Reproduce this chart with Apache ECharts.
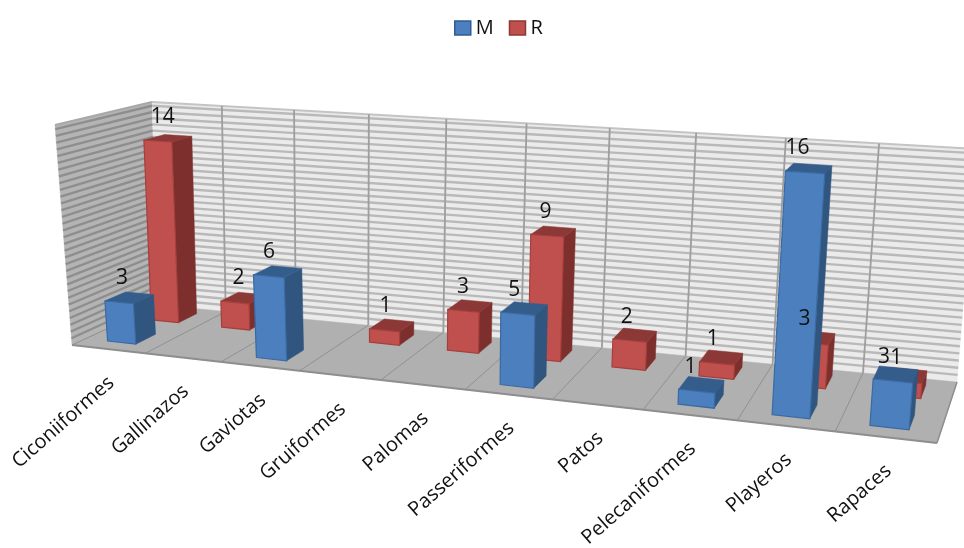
<!DOCTYPE html>
<html><head><meta charset="utf-8">
<style>html,body{margin:0;padding:0;background:#fff}#c{width:964px;height:548px}</style>
<script src="https://cdn.jsdelivr.net/npm/echarts@6/dist/echarts.min.js"></script>
</head><body><div id="c"></div>
<script>
const categories = ['Ciconiiformes','Gallinazos','Gaviotas','Gruiformes','Palomas','Passeriformes','Patos','Pelecaniformes','Playeros','Rapaces'];
const seriesM = [3,null,6,null,null,5,null,1,16,3];
const seriesR = [14,2,null,1,3,9,2,1,3,1];
const yMax = 16.3, gridStep = 0.5;

// perspective box (screen corners of the chart's 3-D box)
const FL=[72,345], FR=[937,443], BL=[158,305], BR=[957,382];
const FTL=[55,125], FTR=[958,183], BTL=[152,102], BTR=[976,149];
const K=1.2;
const lerp=(a,b,t)=>[a[0]+(b[0]-a[0])*t,a[1]+(b[1]-a[1])*t];
function P(u,v,w){
  const t=u/(u+K*(1-u));
  const f=lerp(FL,FR,t), b=lerp(BL,BR,t), ft=lerp(FTL,FTR,t), bt=lerp(BTL,BTR,t);
  return lerp(lerp(f,b,w),lerp(ft,bt,w),v);
}
const poly=(pts,fill,stroke,lw)=>({type:'polygon',silent:true,shape:{points:pts},style:{fill,stroke:stroke||fill,lineWidth:lw==null?0.5:lw}});
const line=(a,b,stroke,lw)=>({type:'line',silent:true,shape:{x1:a[0],y1:a[1],x2:b[0],y2:b[1]},style:{stroke,lineWidth:lw}});
const norm=(api,params,i,val)=>{
  const c=api.coord([i,val]),g=params.coordSys;
  return {u:(c[0]-g.x)/g.width,v:(g.y+g.height-c[1])/g.height,cell:api.size([1,0])[0]/g.width};
};

function renderBox(params,api){
  const ch=[];
  const g=params.coordSys;
  // left wall
  ch.push(poly([P(0,0,0),P(0,0,1),P(0,1,1),P(0,1,0)],'#b4b4b4'));
  // back wall
  ch.push(poly([P(0,0,1),P(1,0,1),P(1,1,1),P(0,1,1)],'#ebebeb'));
  for(let y=gridStep;y<yMax;y+=gridStep){
    const v=norm(api,params,0,y).v;
    ch.push(line(P(0,v,0),P(0,v,1),'#8e8e8e',2.4));
    ch.push(line(P(0,v,1),P(1,v,1),'#b9b9b9',2.4));
  }
  ch.push(line(P(0,1,0),P(0,1,1),'#a8a8a8',2));
  ch.push(line(P(0,1,1),P(1,1,1),'#c4c4c4',2));
  // floor
  ch.push(poly([P(0,0,0),P(1,0,0),P(1,0,1),P(0,0,1)],'#b0b0b0'));
  const cell=api.size([1,0])[0]/g.width;
  for(let i=0;i<=categories.length;i++){
    const u=i*cell;
    if(i>0&&i<categories.length){
      ch.push(line(P(u,0,1),P(u,1,1),'#9e9e9e',1.8));
      ch.push(line(P(u,0,0),P(u,0,1),'#919191',1));
    }
  }
  ch.push(line(P(0,0,0),P(1,0,0),'#8e8e8e',2));
  ch.push(line(P(1,0,0),P(1,0,1),'#8e8e8e',1.5));
  ch.push(line(P(0,0,0),P(0,0,1),'#8e8e8e',1));
  // category labels
  categories.forEach((name,i)=>{
    const n=norm(api,params,i,0), p=P(n.u,0,0);
    ch.push({type:'text',silent:true,x:p[0]+3,y:p[1]+31,rotation:0.72,
      style:{text:name,align:'right',verticalAlign:'middle',fill:'#111',font:'20px "Open Sans"'}});
  });
  return {type:'group',children:ch};
}

const BAR_HALF=0.195;
const DEPTH={M:[0.16,0.40],R:[0.68,0.90]};
const LABEL_DX={M:-3,R:-1};
const COLORS={
  M:{front:'#4c7fbd',edge:'#3a6aa3',side:'#30557f',top:'#345d8c'},
  R:{front:'#c0504d',edge:'#a53f3c',side:'#7c2f2d',top:'#8c3836'}
};
function renderBar(name){
  return function(params,api){
    const i=api.value(0),val=api.value(1);
    if(val==null||isNaN(val)) return;
    const n=norm(api,params,i,val),d=n.cell*BAR_HALF;
    const [w0,w1]=DEPTH[name],c=COLORS[name];
    const a=n.u-d,b=n.u+d,v=n.v;
    return {type:'group',children:[
      poly([P(b,0,w0),P(b,0,w1),P(b,v,w1),P(b,v,w0)],c.side),
      poly([P(a,v,w0),P(b,v,w0),P(b,v,w1),P(a,v,w1)],c.top),
      poly([P(a,0,w0),P(b,0,w0),P(b,v,w0),P(a,v,w0)],c.front,c.edge,1.2)
    ]};
  };
}
function renderLabel(name){
  return function(params,api){
    const i=api.value(0),val=api.value(1);
    if(val==null||isNaN(val)) return;
    const n=norm(api,params,i,val);
    const p=P(n.u,n.v,DEPTH[name][0]);
    return {type:'text',silent:true,x:p[0]+(0.5-n.u)*13+LABEL_DX[name],y:p[1]-24,
      style:{text:String(val),align:'center',verticalAlign:'middle',fill:'#111',font:'21px "Open Sans"'}};
  };
}
const pairs=a=>a.map((v,i)=>[i,v]);
const chart=echarts.init(document.getElementById('c'));
chart.setOption({
  animation:false,
  backgroundColor:'#fff',
  grid:{left:0,right:0,top:0,bottom:0},
  xAxis:{type:'category',data:categories,show:false},
  yAxis:{type:'value',min:0,max:yMax,show:false},
  legend:{
    left:449,top:13,itemWidth:16,itemHeight:14,itemGap:15,selectedMode:false,icon:'rect',
    textStyle:{fontFamily:'Open Sans',fontSize:20,color:'#111'},
    data:[
      {name:'M',itemStyle:{color:'#4c7fbd',borderColor:'#2f5d92',borderWidth:1.5}},
      {name:'R',itemStyle:{color:'#c0504d',borderColor:'#8c3836',borderWidth:1.5}}
    ]
  },
  series:[
    {type:'custom',name:'box',silent:true,clip:false,z:1,data:[[0,0]],encode:{x:0,y:1},renderItem:renderBox},
    {type:'custom',name:'R',silent:true,clip:false,z:2,data:pairs(seriesR),encode:{x:0,y:1},itemStyle:{color:'#c0504d'},renderItem:renderBar('R')},
    {type:'custom',name:'M',silent:true,clip:false,z:3,data:pairs(seriesM),encode:{x:0,y:1},itemStyle:{color:'#4c7fbd'},renderItem:renderBar('M')},
    {type:'custom',name:'R labels',silent:true,clip:false,z:4,data:pairs(seriesR),encode:{x:0,y:1},renderItem:renderLabel('R')},
    {type:'custom',name:'M labels',silent:true,clip:false,z:5,data:pairs(seriesM),encode:{x:0,y:1},renderItem:renderLabel('M')}
  ]
});
</script></body></html>
